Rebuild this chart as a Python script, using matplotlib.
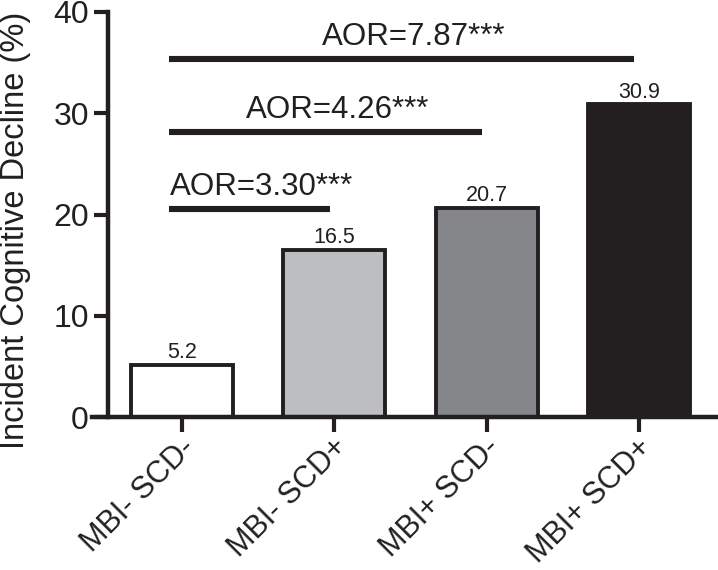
import numpy as np
import matplotlib.pyplot as plt
import matplotlib.transforms as mtransforms

plt.rcParams['font.family'] = ['Liberation Sans', 'DejaVu Sans']

# Data
groups = ['MBI- SCD-', 'MBI- SCD+', 'MBI+ SCD-', 'MBI+ SCD+']
rates = [5.2, 16.5, 20.7, 30.9]
bar_colors = ['#FFFFFF', '#BDBEC0', '#858689', '#231F20']

# Comparison lines: each runs from the first group to the end group
aor_labels = ['AOR=3.30***', 'AOR=4.26***', 'AOR=7.87***']
aor_heights = [20.6, 28.2, 35.4]
aor_ends = [1, 2, 3]

dark = '#231F20'

fig = plt.figure(figsize=(7.18, 5.70), dpi=100)
ax = fig.add_axes([0.150, 0.268, 0.85, 0.711])

x = np.arange(len(groups))
ax.bar(x, rates, width=0.67, color=bar_colors, edgecolor=dark, linewidth=2.8)

for xi, v in zip(x, rates):
    ax.text(xi, v + 0.65, f'{v}', ha='center', va='baseline', fontsize=15.5, color=dark)

# lines and AOR labels
for lab, h, end in zip(aor_labels, aor_heights, aor_ends):
    x0, x1 = -0.09, end - 0.03
    ax.plot([x0, x1], [h, h], color=dark, linewidth=4.4, solid_capstyle='butt')
    ax.text((x0 + x1) / 2 + 0.08, h + 1.3, lab, ha='center', va='baseline',
            fontsize=22.5, color=dark)

ax.set_xlim(-0.49, 3.52)
ax.set_ylim(0, 40)
ax.set_yticks([0, 10, 20, 30, 40])
ax.set_xticks(x)
ax.set_xticklabels(groups, rotation=45, ha='right', va='center',
                   rotation_mode='anchor', fontsize=22)
ax.tick_params(axis='y', labelsize=23, length=10, width=3.0, colors=dark, pad=3.5)
ax.tick_params(axis='x', length=10.5, width=3.0, colors=dark, pad=8)
shift = mtransforms.ScaledTranslation(8 / 100, 0, fig.dpi_scale_trans)
for t in ax.get_xticklabels():
    t.set_transform(t.get_transform() + shift)

ax.set_ylabel('Incident Cognitive Decline (%)', fontsize=23.5, color=dark, va='center')
ax.yaxis.set_label_coords(-0.151, 0.46)

for s in ['top', 'right']:
    ax.spines[s].set_visible(False)
for s in ['left', 'bottom']:
    ax.spines[s].set_linewidth(3.2)
    ax.spines[s].set_color(dark)
ax.spines['bottom'].set_bounds(-0.59, 3.52)

fig.savefig('out.png', dpi=100)
